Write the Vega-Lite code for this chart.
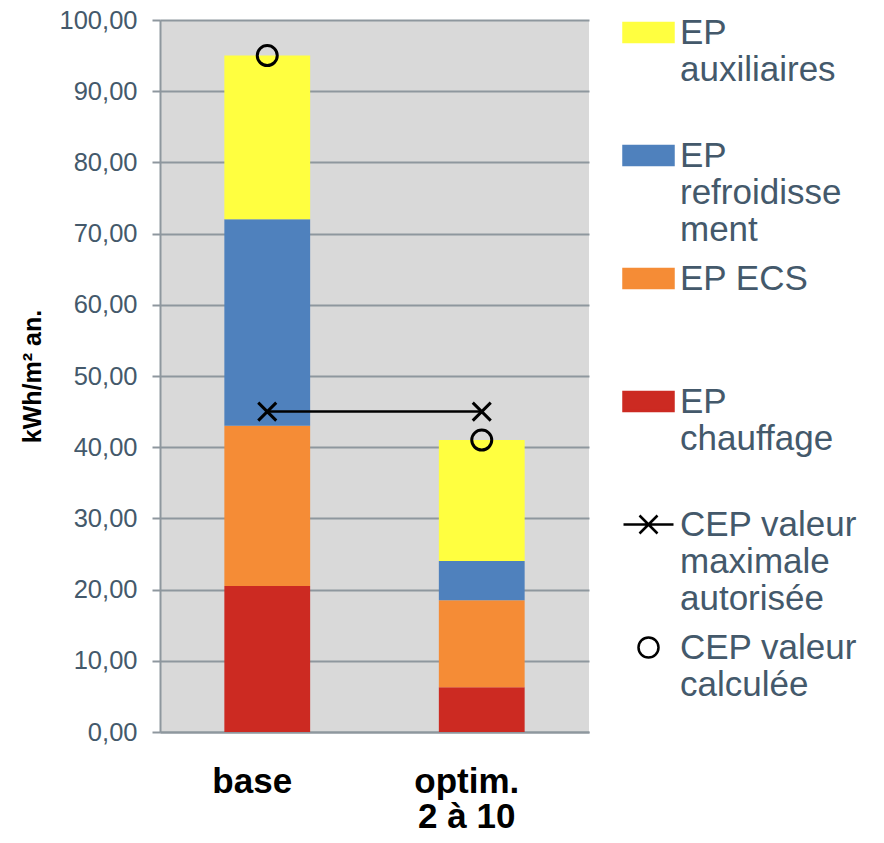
{
  "$schema": "https://vega.github.io/schema/vega-lite/v6.json",
  "width": 429,
  "height": 712,
  "autosize": {"type": "none"},
  "padding": {"left": 160, "top": 20, "right": 295, "bottom": 111},
  "background": "white",
  "config": {
    "font": "Liberation Sans",
    "view": {"fill": "#d9d9d9", "stroke": null}
  },
  "data": {
    "values": [
      {"option": "base", "serie": "EP chauffage", "valeur": 20.5},
      {"option": "base", "serie": "EP ECS", "valeur": 22.5},
      {"option": "base", "serie": "EP refroidissement", "valeur": 29},
      {"option": "base", "serie": "EP auxiliaires", "valeur": 23},
      {"option": "optim. 2 à 10", "serie": "EP chauffage", "valeur": 6.3},
      {"option": "optim. 2 à 10", "serie": "EP ECS", "valeur": 12.2},
      {"option": "optim. 2 à 10", "serie": "EP refroidissement", "valeur": 5.5},
      {"option": "optim. 2 à 10", "serie": "EP auxiliaires", "valeur": 17},
      {"option": "base", "serie": "CEP valeur maximale autorisée", "valeur": 45},
      {"option": "optim. 2 à 10", "serie": "CEP valeur maximale autorisée", "valeur": 45},
      {"option": "base", "serie": "CEP valeur calculée", "valeur": 95},
      {"option": "optim. 2 à 10", "serie": "CEP valeur calculée", "valeur": 41}
    ]
  },
  "encoding": {
    "x": {
      "field": "option",
      "type": "nominal",
      "sort": ["base", "optim. 2 à 10"],
      "scale": {"paddingInner": 0.6, "paddingOuter": 0.3},
      "axis": {
        "title": null,
        "labelAngle": 0,
        "labelExpr": "datum.value === 'base' ? 'base' : ['optim.', '2 à 10']",
        "labelFontSize": 35,
        "labelFontWeight": "bold",
        "labelColor": "black",
        "labelLineHeight": 35,
        "labelBaseline": "alphabetic",
        "labelPadding": 60,
        "labelOffset": -15,
        "ticks": false,
        "tickSize": 0,
        "domainColor": "#8e979e",
        "domainWidth": 2,
        "encode": {
          "labels": {"update": {"dy": {"signal": "datum.value === 'base' ? 26 : 0"}}}
        }
      }
    },
    "y": {
      "field": "valeur",
      "type": "quantitative",
      "scale": {"domain": [0, 100], "nice": false},
      "axis": {
        "title": "kWh/m² an.",
        "titleFontSize": 25,
        "titleFontWeight": "bold",
        "titleColor": "black",
        "titlePadding": 14,
        "values": [0, 10, 20, 30, 40, 50, 60, 70, 80, 90, 100],
        "labelExpr": "replace(format(datum.value, '.2f'), '.', ',')",
        "labelFontSize": 25.5,
        "labelColor": "#44596b",
        "labelPadding": 15,
        "tickSize": 8,
        "tickWidth": 2,
        "tickColor": "#8e979e",
        "domainColor": "#8e979e",
        "domainWidth": 2,
        "grid": true,
        "gridColor": "#8e979e",
        "gridWidth": 2
      }
    },
    "color": {
      "field": "serie",
      "type": "nominal",
      "scale": {
        "domain": ["EP chauffage", "EP ECS", "EP refroidissement", "EP auxiliaires", "CEP valeur maximale autorisée", "CEP valeur calculée"],
        "range": ["#cc2a22", "#f58c36", "#4f81bd", "#ffff40", "#000000", "#000000"]
      },
      "legend": {
        "title": null,
        "orient": "none",
        "legendX": 462,
        "legendY": -14,
        "padding": 0,
        "values": ["EP auxiliaires", "EP refroidissement", "EP ECS", "EP chauffage", "CEP valeur maximale autorisée", "CEP valeur calculée"],
        "symbolSize": 2500,
        "symbolType": "M-1,-0.38H1V0.38H-1Z",
        "labelExpr": "datum.value === 'EP auxiliaires' ? ['EP', 'auxiliaires', ''] : datum.value === 'EP refroidissement' ? ['EP', 'refroidisse', 'ment'] : datum.value === 'EP ECS' ? ['EP ECS', '', ''] : datum.value === 'EP chauffage' ? ['EP', 'chauffage', ''] : datum.value === 'CEP valeur maximale autorisée' ? ['CEP valeur', 'maximale', 'autorisée'] : ['CEP valeur', 'calculée', '']",
        "labelFontSize": 35,
        "labelColor": "#44596b",
        "labelLimit": 300,
        "labelOffset": 5,
        "labelLineHeight": 42.5,
        "labelBaseline": "middle",
        "rowPadding": 4,
        "encode": {
          "symbols": {
            "update": {
              "shape": {"signal": "datum.value === 'CEP valeur maximale autorisée' ? 'M-1,0H1M-0.36,-0.36L0.36,0.36M-0.36,0.36L0.36,-0.36' : datum.value === 'CEP valeur calculée' ? 'M-0.4,0A0.4,0.4,0,1,1,0.4,0A0.4,0.4,0,1,1,-0.4,0Z' : 'M-1,-0.38H1V0.38H-1Z'"},
              "fill": {"signal": "indexof(['CEP valeur maximale autorisée', 'CEP valeur calculée'], datum.value) >= 0 ? 'transparent' : scale('color', datum.value)"},
              "fillOpacity": {"signal": "indexof(['CEP valeur maximale autorisée', 'CEP valeur calculée'], datum.value) >= 0 ? 0 : 1"},
              "stroke": {"signal": "indexof(['CEP valeur maximale autorisée', 'CEP valeur calculée'], datum.value) >= 0 ? 'black' : 'transparent'"},
              "strokeWidth": {"value": 2.5},
              "opacity": {"value": 1}
            }
          }
        }
      }
    }
  },
  "layer": [
    {
      "transform": [
        {"filter": "indexof(datum.serie, 'EP ') === 0"},
        {"window": [{"op": "row_number", "as": "rang"}], "groupby": ["option"]}
      ],
      "mark": {"type": "bar"},
      "encoding": {
        "order": {"field": "rang", "type": "quantitative", "sort": "ascending"}
      }
    },
    {
      "transform": [{"filter": "datum.serie === 'CEP valeur maximale autorisée'"}],
      "mark": {"type": "line", "color": "black", "strokeWidth": 2.5},
      "encoding": {"color": {"value": "black"}}
    },
    {
      "transform": [{"filter": "indexof(datum.serie, 'CEP ') === 0"}],
      "mark": {"type": "point", "filled": false, "strokeWidth": 3, "size": 400, "opacity": 1},
      "encoding": {
        "y": {"field": "valeur", "type": "quantitative", "stack": null},
        "shape": {
          "field": "serie",
          "type": "nominal",
          "scale": {
            "domain": ["CEP valeur maximale autorisée", "CEP valeur calculée"],
            "range": ["M-0.9,-0.9L0.9,0.9M-0.9,0.9L0.9,-0.9", "circle"]
          },
          "legend": null
        }
      }
    }
  ]
}
